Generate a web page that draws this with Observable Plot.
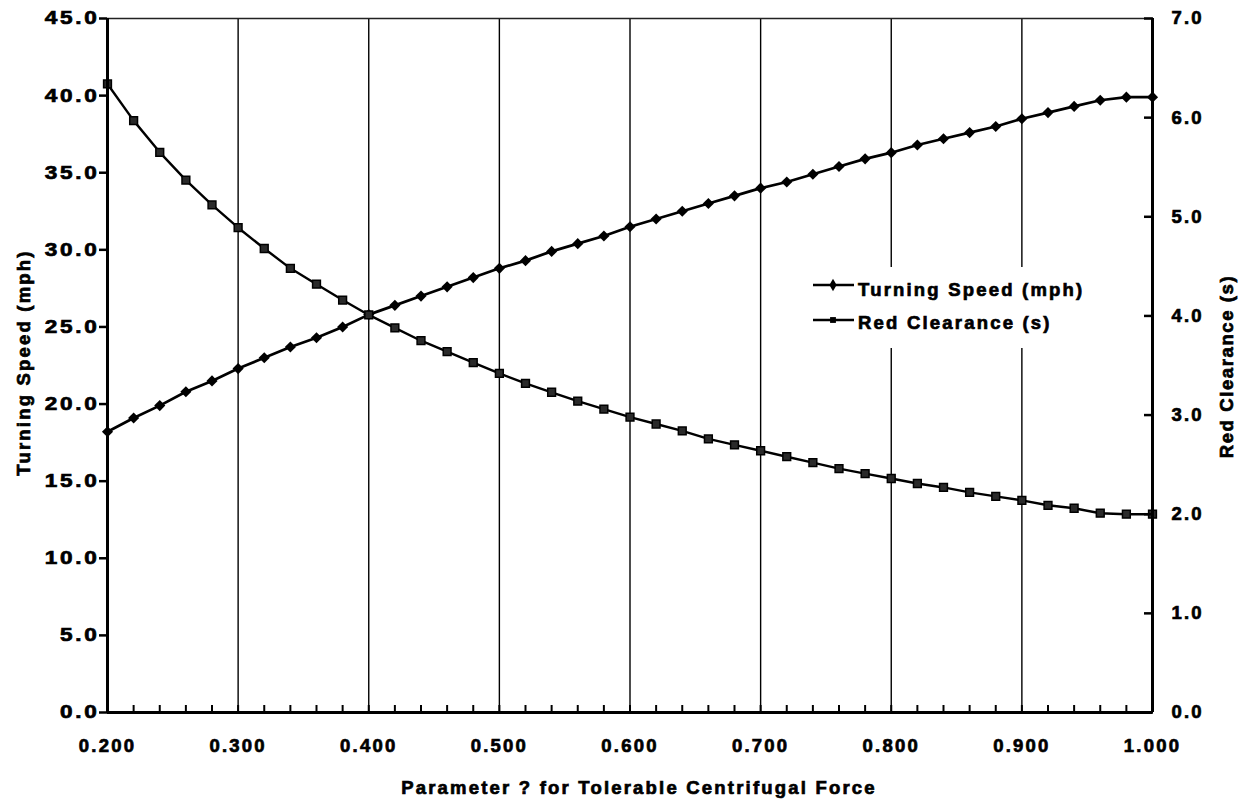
<!DOCTYPE html>
<html><head><meta charset="utf-8">
<script src="https://cdn.jsdelivr.net/npm/d3@7"></script>
<script src="https://cdn.jsdelivr.net/npm/@observablehq/plot@0.6"></script>
<style>
html,body{margin:0;padding:0;background:#fff;overflow:hidden}
#wrap{position:relative;width:1247px;height:800px}
#wrap svg text{font-family:"Liberation Sans",Arial,sans-serif;font-weight:bold;font-size:18.5px;letter-spacing:2.2px;fill:#000;stroke:#000;stroke-width:0.7px}
#legend{position:absolute;left:806px;top:267px;width:294px;height:81px;background:#fff}
</style></head>
<body>
<div id="wrap"><div id="chart"></div><div id="legend"></div></div>
<script>
// ---- data ----
const xValues = [0.20,0.22,0.24,0.26,0.28,0.30,0.32,0.34,0.36,0.38,0.40,0.42,0.44,0.46,0.48,0.50,0.52,0.54,0.56,0.58,0.60,0.62,0.64,0.66,0.68,0.70,0.72,0.74,0.76,0.78,0.80,0.82,0.84,0.86,0.88,0.90,0.92,0.94,0.96,0.98,1.00];
const turningSpeed = [18.2,19.1,19.9,20.8,21.5,22.3,23.0,23.7,24.3,25.0,25.8,26.4,27.0,27.6,28.2,28.8,29.3,29.9,30.4,30.9,31.5,32.0,32.5,33.0,33.5,34.0,34.4,34.9,35.4,35.9,36.3,36.8,37.2,37.6,38.0,38.5,38.9,39.3,39.7,39.9,39.9];
const redClearance = [6.34,5.97,5.65,5.37,5.12,4.89,4.68,4.48,4.32,4.16,4.01,3.88,3.75,3.64,3.53,3.42,3.32,3.23,3.14,3.06,2.98,2.91,2.84,2.76,2.70,2.64,2.58,2.52,2.46,2.41,2.36,2.31,2.27,2.22,2.18,2.14,2.09,2.06,2.01,2.00,2.00];
const seriesNames = ["Turning Speed (mph)", "Red Clearance (s)"];
const xMajorTicks = [0.2,0.3,0.4,0.5,0.6,0.7,0.8,0.9,1.0];
const xGridTicks = [0.3,0.4,0.5,0.6,0.7,0.8,0.9];
const leftTicks = [0,5,10,15,20,25,30,35,40,45];
const rightTicks = [0,1,2,3,4,5,6,7];
const xTitle = "Parameter ? for Tolerable Centrifugal Force";
const yLeftTitle = "Turning Speed (mph)";
const yRightTitle = "Red Clearance (s)";

// ---- chart ----
const leftMax = 45, rightMax = 7;
const k = leftMax / rightMax;
const rows = xValues.map((x, i) => ({x, speed: turningSpeed[i], clearance: redClearance[i]}));

const chart = Plot.plot({
  width: 1247, height: 800,
  marginLeft: 107, marginRight: 95, marginTop: 18, marginBottom: 88,
  x: {domain: [0.2, 1.0]},
  y: {domain: [0, leftMax]},
  marks: [
    Plot.ruleX(xGridTicks, {stroke: "#000", strokeWidth: 1.4}),
    Plot.ruleY([leftMax], {stroke: "#222", strokeWidth: 1.6}),
    Plot.line(rows, {x: "x", y: "speed", stroke: "#000", strokeWidth: 2.7}),
    Plot.line(rows, {x: "x", y: d => d.clearance * k, stroke: "#000", strokeWidth: 2.4}),
    Plot.dot(rows, {x: "x", y: "speed", symbol: "diamond2", r: 5, fill: "#000"}),
    Plot.dot(rows, {x: "x", y: d => d.clearance * k, symbol: "square", r: 4.4, fill: "#2a2a2a", stroke: "#000", strokeWidth: 1.5}),
    Plot.axisX({ticks: xValues, tickSize: 7, dy: -7, tickFormat: () => "", strokeWidth: 2, label: null}),
    Plot.axisX({ticks: xMajorTicks, tickSize: 0, tickPadding: 26, tickFormat: d => d.toFixed(3), label: null}),
    Plot.axisY({ticks: leftTicks, tickSize: 8, tickPadding: 0, strokeWidth: 2.5, tickFormat: d => d.toFixed(1), label: null}),
    Plot.axisY({anchor: "right", ticks: rightTicks.map(v => v * k), tickSize: 9, dx: -9, tickPadding: 19, strokeWidth: 2.5, tickFormat: d => (d / k).toFixed(1), label: null}),
    Plot.ruleX([0.2], {stroke: "#000", strokeWidth: 3}),
    Plot.ruleX([1.0], {stroke: "#000", strokeWidth: 3}),
    Plot.ruleY([0], {stroke: "#000", strokeWidth: 3}),
    Plot.text([yLeftTitle], {frameAnchor: "left", dx: -83, dy: -3, rotate: -90, textAnchor: "middle", lineAnchor: "middle"}),
    Plot.text([yRightTitle], {frameAnchor: "right", dx: 75, dy: 1, rotate: -90, textAnchor: "middle", lineAnchor: "middle"}),
    Plot.text([xTitle], {frameAnchor: "bottom", dx: 9, dy: 76, textAnchor: "middle", lineAnchor: "middle"})
  ]
});
document.getElementById("chart").appendChild(chart);

// left tick labels are drawn a little wider in the original
d3.select(chart).selectAll('g[aria-label="y-axis tick label"]').filter((d, i) => i === 0)
  .selectAll("text").attr("transform", function() { return this.getAttribute("transform") + " scale(1.22,1)"; });
// right axis title is a little tighter
d3.select(chart).selectAll("text").filter(function() { return this.textContent === yRightTitle; })
  .style("letter-spacing", "1.6px");

// ---- legend (inside the plot area, white box) ----
const lg = d3.select("#legend").append("svg").attr("width", 294).attr("height", 81);
const legendRows = [
  {name: seriesNames[0], symbol: d3.symbolDiamond, size: 44, lineY: 18, textY: 29},
  {name: seriesNames[1], symbol: d3.symbolSquare, size: 34, lineY: 53, textY: 62}
];
legendRows.forEach(r => {
  lg.append("line").attr("x1", 7).attr("x2", 48).attr("y1", r.lineY).attr("y2", r.lineY)
    .attr("stroke", "#000").attr("stroke-width", 2.6);
  lg.append("path").attr("d", d3.symbol(r.symbol, r.size)()).attr("transform", `translate(27,${r.lineY})`)
    .attr("fill", "#000");
  lg.append("text").attr("x", 52).attr("y", r.textY).text(r.name)
    .style("font-family", '"Liberation Sans",Arial,sans-serif').style("font-weight", "bold")
    .style("font-size", "18.5px").style("letter-spacing", "2.2px")
    .style("stroke", "#000").style("stroke-width", "0.7px");
});
</script>
</body></html>
